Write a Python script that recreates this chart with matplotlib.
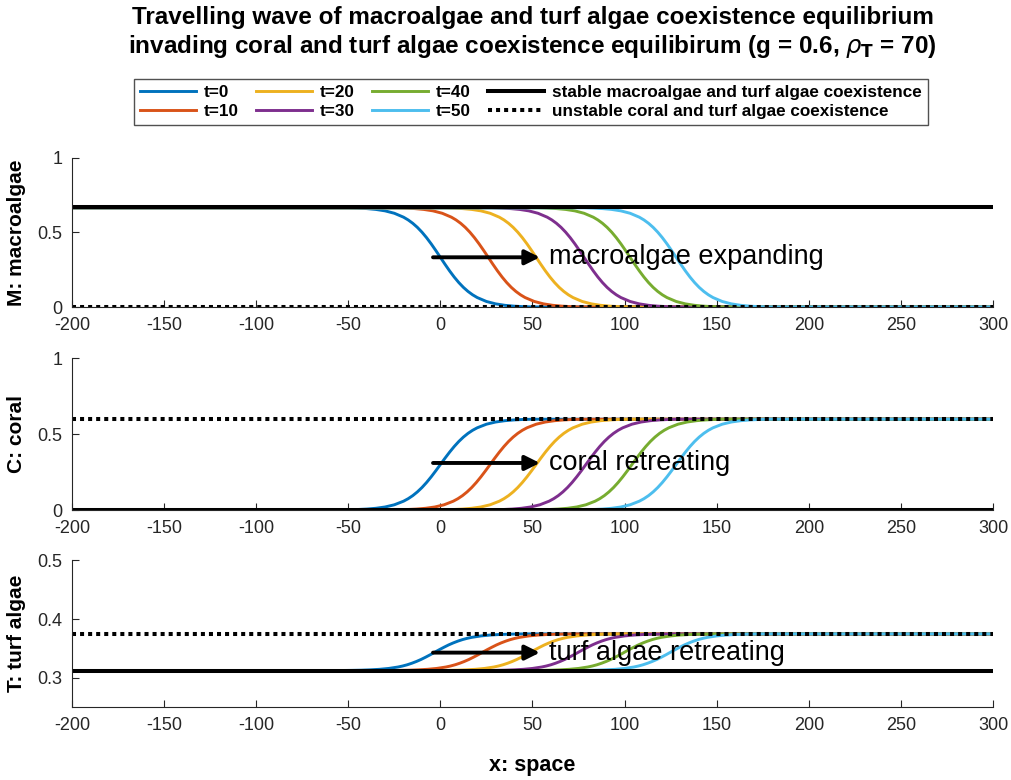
import numpy as np
import matplotlib.pyplot as plt

plt.rcParams['font.family'] = ['Liberation Sans', 'DejaVu Sans']
plt.rcParams['axes.unicode_minus'] = False

# time labels and MATLAB default line colours
times = [0, 10, 20, 30, 40, 50]
colors = ['#0072BD', '#D95319', '#EDB120', '#7E2F8E', '#77AC30', '#4DBEEE']

# sample positions relative to each wave front
offsets = [-50, -45, -40, -35, -30, -25, -20, -17.5, -15, -12.5, -10, -7.5, -5, -2.5, 0,
           2.5, 5, 7.5, 10, 12.5, 15, 17.5, 20, 25, 30, 35, 40, 45, 50]

# wave profile read at those offsets
M_profile = [0.6644, 0.6625, 0.6593, 0.6536, 0.6440, 0.6280, 0.6018, 0.5835, 0.5610, 0.5339,
             0.5018, 0.4649, 0.4238, 0.3795, 0.3335, 0.2875, 0.2432, 0.2021, 0.1652, 0.1331,
             0.1060, 0.0835, 0.0652, 0.0390, 0.0230, 0.0134, 0.0077, 0.0045, 0.0026]
C_profile = [0.0023, 0.0040, 0.0069, 0.0121, 0.0207, 0.0351, 0.0587, 0.0751, 0.0953, 0.1198,
             0.1486, 0.1818, 0.2188, 0.2586, 0.3000, 0.3414, 0.3812, 0.4182, 0.4514, 0.4802,
             0.5047, 0.5249, 0.5413, 0.5649, 0.5793, 0.5879, 0.5931, 0.5960, 0.5977]
T_profile = [0.3127, 0.3129, 0.3132, 0.3138, 0.3147, 0.3162, 0.3186, 0.3203, 0.3224, 0.3250,
             0.3280, 0.3314, 0.3353, 0.3394, 0.3438, 0.3481, 0.3522, 0.3561, 0.3595, 0.3625,
             0.3651, 0.3672, 0.3689, 0.3713, 0.3728, 0.3737, 0.3743, 0.3746, 0.3748]

# front position of each curve (t = 0, 10, ..., 50)
M_fronts = [0, 26, 52, 78, 103, 128]
C_fronts = [0, 27, 52, 79, 104, 128]
T_fronts = [-3, 23, 49, 75, 100, 125]

# equilibrium levels
M_stable, M_unstable = 0.6667, 0.0
C_stable, C_unstable = 0.0, 0.6
T_stable, T_unstable = 0.3125, 0.375

x_min, x_max = -200, 300

panels = [
    dict(profile=M_profile, fronts=M_fronts, stable=M_stable, unstable=M_unstable,
         ylim=(0, 1), yticks=[0, 0.5, 1], yticklabels=['0', '0.5', '1'],
         ylabel='M: macroalgae', arrow_y=0.334, text='macroalgae expanding',
         rect=[0.0712, 0.606, 0.911, 0.192]),
    dict(profile=C_profile, fronts=C_fronts, stable=C_stable, unstable=C_unstable,
         ylim=(0, 1), yticks=[0, 0.5, 1], yticklabels=['0', '0.5', '1'],
         ylabel='C: coral', arrow_y=0.31, text='coral retreating',
         rect=[0.0712, 0.346, 0.911, 0.195]),
    dict(profile=T_profile, fronts=T_fronts, stable=T_stable, unstable=T_unstable,
         ylim=(0.25, 0.5), yticks=[0.3, 0.4, 0.5], yticklabels=['0.3', '0.4', '0.5'],
         ylabel='T: turf algae', arrow_y=0.343, text='turf algae retreating',
         rect=[0.0712, 0.093, 0.911, 0.189]),
]

fig = plt.figure(figsize=(10.11, 7.8), dpi=100)
axes = []
for p in panels:
    ax = fig.add_axes(p['rect'])
    prof = p['profile']
    for t, front, col in zip(times, p['fronts'], colors):
        xs = [x_min] + [front + d for d in offsets] + [x_max]
        ys = [prof[0]] + prof + [prof[-1]]
        ax.plot(xs, ys, color=col, lw=2.1, label=f't={t}')
    ax.plot([x_min, x_max], [p['stable']] * 2, color='black', lw=2.9,
            label='stable macroalgae and turf algae coexistence')
    ax.plot([x_min, x_max], [p['unstable']] * 2, color='black', lw=2.9,
            linestyle=(0, (1, 1)), dash_capstyle='butt',
            label='unstable coral and turf algae coexistence')
    ax.annotate('', xy=(54, p['arrow_y']), xytext=(-4, p['arrow_y']),
                arrowprops=dict(arrowstyle='-|>', color='black', lw=2.8,
                                mutation_scale=22, shrinkA=0, shrinkB=0))
    ax.text(59, p['arrow_y'], p['text'], fontsize=19.5, va='center', ha='left')
    ax.set_xlim(x_min, x_max)
    ax.set_ylim(*p['ylim'])
    ax.set_xticks(range(-200, 301, 50))
    ax.set_yticks(p['yticks'])
    ax.set_yticklabels(p['yticklabels'])
    ax.set_ylabel(p['ylabel'], fontsize=15, fontweight='bold', labelpad=8)
    ax.tick_params(direction='in', length=5, top=False, right=False,
                   labelsize=13, colors='#262626', pad=7)
    for s in ['top', 'right']:
        ax.spines[s].set_visible(False)
    for s in ['left', 'bottom']:
        ax.spines[s].set_color('#262626')
    axes.append(ax)

axes[-1].set_xlabel('x: space', fontsize=15.5, fontweight='bold', labelpad=15)

handles, labels = axes[0].get_legend_handles_labels()
fig.legend(handles, labels, loc='center', bbox_to_anchor=(0.525, 0.869), ncol=4,
           prop={'weight': 'bold', 'size': 12.3}, handlelength=3.3,
           columnspacing=1.0, handletextpad=0.45, labelspacing=0.2,
           frameon=True, fancybox=False, edgecolor='#262626', borderpad=0.35)

fig.suptitle('Travelling wave of macroalgae and turf algae coexistence equilibrium\n'
             r'invading coral and turf algae coexistence equilibirum (g = 0.6, $\rho_{\mathbf{T}}$ = 70)',
             x=0.527, y=0.992, fontsize=17.5, fontweight='bold', linespacing=1.2)

plt.savefig('out.png', dpi=100)
